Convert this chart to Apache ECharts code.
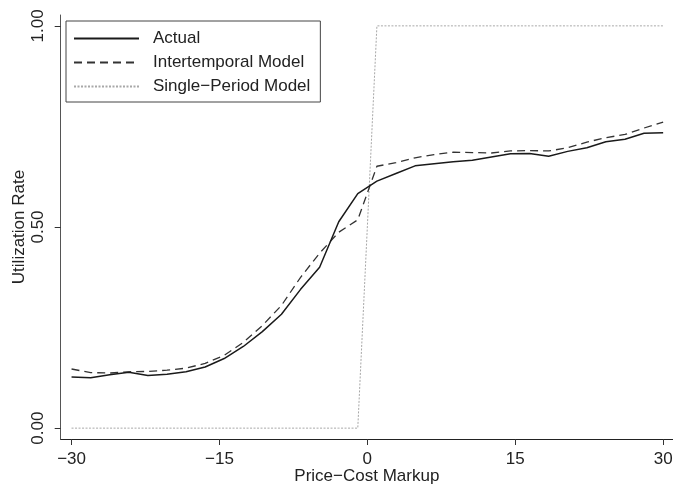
<!DOCTYPE html>
<html>
<head>
<meta charset="utf-8">
<title>Utilization Rate</title>
<script src="https://cdn.jsdelivr.net/npm/echarts@6/dist/echarts.min.js"></script>
<style>
  html, body { margin: 0; padding: 0; background: #fff; }
  #chart { width: 673px; height: 485px; }
</style>
</head>
<body>
<div id="chart"></div>
<script>
// price-cost markup grid (32 points from -30 to 30)
var markup = [-30.00, -28.06, -26.13, -24.19, -22.26, -20.32, -18.39, -16.45,
              -14.52, -12.58, -10.65, -8.71, -6.77, -4.84, -2.90, -0.97,
              0.97, 2.90, 4.84, 6.77, 8.71, 10.65, 12.58, 14.52,
              16.45, 18.39, 20.32, 22.26, 24.19, 26.13, 28.06, 30.00];

var actual = [0.127, 0.125, 0.133, 0.139, 0.131, 0.134, 0.140, 0.152,
              0.173, 0.203, 0.240, 0.283, 0.345, 0.400, 0.513, 0.583,
              0.614, 0.633, 0.652, 0.657, 0.662, 0.666, 0.674, 0.682,
              0.683, 0.676, 0.688, 0.697, 0.712, 0.718, 0.733, 0.734];

var intertemporal = [0.147, 0.138, 0.137, 0.140, 0.141, 0.144, 0.149, 0.161,
                     0.181, 0.213, 0.255, 0.305, 0.375, 0.435, 0.487, 0.518,
                     0.651, 0.660, 0.672, 0.680, 0.686, 0.685, 0.684, 0.689,
                     0.690, 0.689, 0.697, 0.711, 0.722, 0.730, 0.746, 0.761];

var singlePeriod = [0, 0, 0, 0, 0, 0, 0, 0,
                    0, 0, 0, 0, 0, 0, 0, 0,
                    1, 1, 1, 1, 1, 1, 1, 1,
                    1, 1, 1, 1, 1, 1, 1, 1];

var xTicks = [-30, -15, 0, 15, 30];
var yTicks = [0, 0.5, 1];

function pairs(ys) {
    return markup.map(function (x, i) { return [x, ys[i]]; });
}
function minus(v) {
    return String(v).replace('-', '\u2212');
}

var font = 'Liberation Sans';
var chart = echarts.init(document.getElementById('chart'));

var option = {
    animation: false,
    backgroundColor: '#fff',
    textStyle: { fontFamily: font, color: '#222' },
    grid: { left: 60.7, right: 0, top: 15, bottom: 46, outerBoundsMode: 'none' },
    legend: {
        orient: 'vertical',
        left: 66,
        top: 21,
        padding: [9, 10, 7, 7],
        itemGap: 7,
        itemWidth: 65,
        itemHeight: 10,
        itemStyle: { opacity: 0 },   // line only, no marker in the key
        borderColor: '#444',
        borderWidth: 1,
        borderRadius: 0,
        textStyle: { fontFamily: font, fontSize: 17, color: '#222', padding: [0, 0, 0, 9] },
        data: ['Actual', 'Intertemporal Model', 'Single\u2212Period Model']
    },
    xAxis: {
        type: 'value',
        min: -31.1,
        max: 31,
        name: 'Price\u2212Cost Markup',
        nameLocation: 'middle',
        nameGap: 29,
        nameMoveOverlap: false,
        nameTextStyle: { fontFamily: font, fontSize: 17, color: '#222' },
        axisLine: { onZero: false, lineStyle: { color: '#222', width: 1.2 } },
        axisTick: { length: 6, customValues: xTicks, lineStyle: { color: '#333' } },
        axisLabel: {
            customValues: xTicks,
            margin: 12,
            fontSize: 17,
            color: '#222',
            fontFamily: font,
            formatter: function (v) { return minus(v); }
        },
        splitLine: { show: false }
    },
    yAxis: {
        type: 'value',
        min: -0.027,
        max: 1.027,
        name: 'Utilization Rate',
        nameLocation: 'middle',
        nameGap: 33,
        nameMoveOverlap: false,
        nameTextStyle: { fontFamily: font, fontSize: 17, color: '#222' },
        axisLine: { onZero: false, lineStyle: { color: '#555', width: 1 } },
        axisTick: { length: 6, customValues: yTicks, lineStyle: { color: '#333' } },
        axisLabel: {
            customValues: yTicks,
            rotate: 90,
            margin: 14,
            fontSize: 17,
            color: '#222',
            fontFamily: font,
            formatter: function (v) { return v.toFixed(2); }
        },
        splitLine: { show: false }
    },
    series: [
        {
            name: 'Actual',
            type: 'line',
            symbol: 'none',
            data: pairs(actual),
            lineStyle: { color: '#1a1a1a', width: 1.5 },
            itemStyle: { color: '#1a1a1a' },
            z: 3
        },
        {
            name: 'Intertemporal Model',
            type: 'line',
            symbol: 'none',
            data: pairs(intertemporal),
            lineStyle: { color: '#333', width: 1.3, type: [8, 5] },
            itemStyle: { color: '#333' },
            z: 2
        },
        {
            name: 'Single\u2212Period Model',
            type: 'line',
            symbol: 'none',
            data: pairs(singlePeriod),
            lineStyle: { color: '#a8a8a8', width: 1, type: [2, 1.5] },
            itemStyle: { color: '#a8a8a8' },
            z: 1
        }
    ]
};

chart.setOption(option);
</script>
</body>
</html>
